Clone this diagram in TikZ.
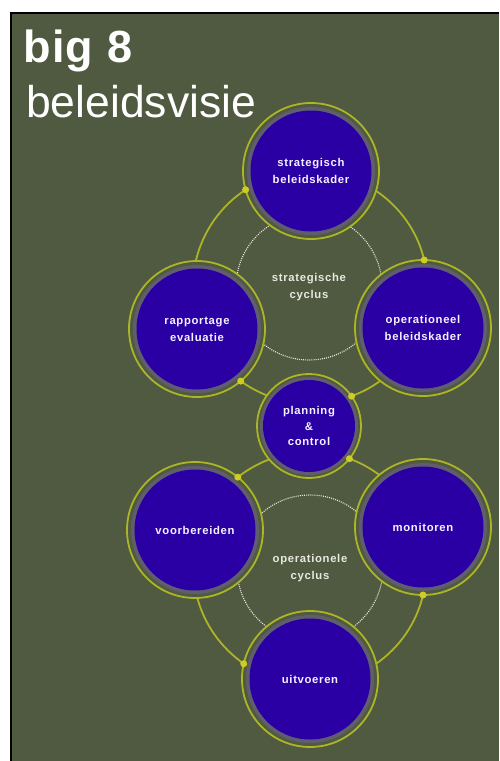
\documentclass[tikz,border=0pt]{standalone}
\usepackage{fontspec}
\setmainfont{Liberation Sans}
\newfontfamily\lblfont{Liberation Sans}[LetterSpace=6]
\newfontfamily\ttlfont{Liberation Sans}[LetterSpace=3]
\definecolor{bg}{RGB}{80,90,64}
\definecolor{ringc}{RGB}{172,180,40}
\definecolor{dotc}{RGB}{205,205,35}
\definecolor{purp}{RGB}{42,0,165}
\definecolor{band}{RGB}{96,94,110}
\definecolor{lbl}{RGB}{245,242,255}
\definecolor{cyc}{RGB}{232,232,225}
\begin{document}
\begin{tikzpicture}[x=1pt,y=1pt,
  bignode/.style={circle, minimum size=136pt, inner sep=0pt, outer sep=0pt,
    draw=ringc, line width=1.8pt, fill=bg, text=lbl, align=center,
    font=\lblfont\bfseries\fontsize{11.3}{17}\selectfont,
    path picture={\fill[band] (path picture bounding box.center) circle[radius=64pt];
                  \fill[purp] (path picture bounding box.center) circle[radius=60.5pt];}},
  smallnode/.style={circle, minimum size=104pt, inner sep=0pt, outer sep=0pt,
    draw=ringc, line width=1.8pt, fill=bg, text=lbl, align=center,
    font=\lblfont\bfseries\fontsize{11.3}{15.5}\selectfont,
    path picture={\fill[band] (path picture bounding box.center) circle[radius=49pt];
                  \fill[purp] (path picture bounding box.center) circle[radius=46pt];}},
  cyclenode/.style={circle, minimum size=146pt, inner sep=0pt, outer sep=0pt,
    draw=cyc, line width=1.1pt, dash pattern=on 1pt off 1.1pt, text=cyc, align=center,
    font=\lblfont\bfseries\fontsize{11.3}{17}\selectfont},
  conn/.style={draw=ringc, line width=1.8pt},
  dotmark/.style={fill=dotc}
]
\useasboundingbox (0,0) rectangle (499,-761);
\fill[bg] (10,-12) rectangle (499,-761);
\draw[black, line width=2pt] (11,-761) -- (11,-13) -- (499,-13);

% titles
\node[anchor=base west, inner sep=0pt, text=white, font=\ttlfont\bfseries\fontsize{45}{45}\selectfont] (t1) at (23,-62) {big 8};
\node[anchor=base west, inner sep=0pt, text=white, font=\fontsize{44.5}{44}\selectfont] (t2) at (26,-117) {beleidsvisie};

% dotted cycles
\node[cyclenode] (sc) at (309,-287) {strategische\\cyclus};
\node[cyclenode] (oc) at (310,-568) {operationele\\cyclus};

% nodes
\node[bignode] (SB) at (311,-171) {strategisch\\beleidskader};
\node[bignode] (RE) at (197,-329) {rapportage\\evaluatie};
\node[bignode] (OB) at (423,-328) {operationeel\\beleidskader};
\node[smallnode] (PC) at (309,-426) {planning\\\&\\control};
\node[bignode] (VB) at (195,-530) {voorbereiden};
\node[bignode] (MO) at (423,-527) {monitoren};
\node[bignode] (UV) at (310,-679) {uitvoeren};

% strategic cycle connectors
\draw[conn] (SB.-17) to[out=-34, in=103, looseness=0.88] (OB.89);
\draw[conn] (OB.-129) to[out=-143, in=21, looseness=0.86] (PC.35);
\draw[conn] (PC.144) to[out=158, in=-36, looseness=0.86] (RE.-50);
\draw[conn] (RE.91) to[out=77, in=213, looseness=0.88] (SB.196);

% operational cycle connectors
\draw[conn] (PC.220) to[out=201, in=38, looseness=0.86] (VB.51);
\draw[conn] (VB.-88) to[out=-75, in=145, looseness=0.88] (UV.167);
\draw[conn] (UV.13) to[out=35, in=-103, looseness=0.88] (MO.-90);
\draw[conn] (MO.130) to[out=143, in=-20, looseness=0.86] (PC.-39);

% dots at arrival ends
\fill[dotmark] (OB.89) circle[radius=3.5pt];
\fill[dotmark] (PC.35) circle[radius=3.5pt];
\fill[dotmark] (RE.-50) circle[radius=3.5pt];
\fill[dotmark] (SB.196) circle[radius=3.5pt];
\fill[dotmark] (VB.51) circle[radius=3.5pt];
\fill[dotmark] (UV.167) circle[radius=3.5pt];
\fill[dotmark] (MO.-90) circle[radius=3.5pt];
\fill[dotmark] (PC.-39) circle[radius=3.5pt];
\end{tikzpicture}
\end{document}
